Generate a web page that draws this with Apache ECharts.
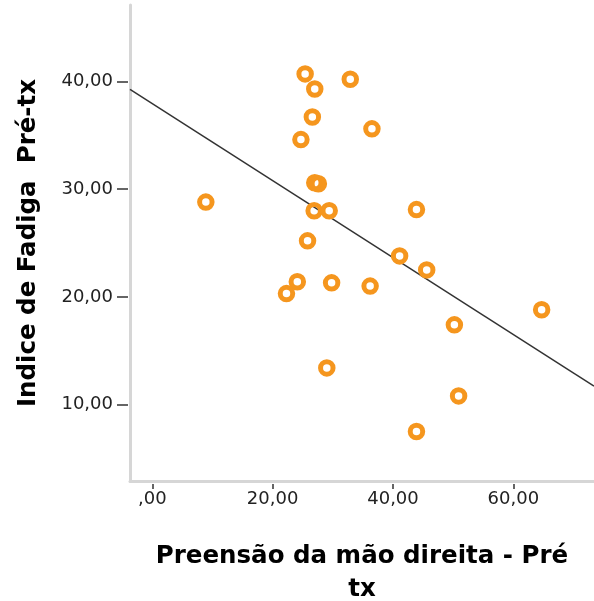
<!DOCTYPE html>
<html>
<head>
<meta charset="utf-8">
<script src="https://cdn.jsdelivr.net/npm/echarts@6/dist/echarts.min.js"></script>
<style>
html,body{margin:0;padding:0;background:#fff;}
#chart{width:594px;height:601px;}
</style>
</head>
<body>
<div id="chart"></div>
<script>
// Data
const preensaoX = [25.4, 27.0, 32.9, 26.6, 36.5, 24.7, 27.0, 27.6, 8.9, 26.9, 29.4, 43.9, 25.8, 41.1, 45.6, 24.1, 22.3, 29.8, 36.2, 29.0, 64.7, 50.2, 50.9, 43.9];
const fadigaY   = [40.7, 39.3, 40.2, 36.7, 35.6, 34.6, 30.6, 30.5, 28.8, 28.0, 28.0, 28.1, 25.2, 23.8, 22.5, 21.4, 20.3, 21.3, 21.0, 13.4, 18.8, 17.4, 10.8, 7.5];
const xTicks = [0, 20, 40, 60];
const yTicks = [10, 20, 30, 40];
const xRange = [-3.7, 73.4];
const yRange = [2.9, 47.1];
const xTitle = 'Preensão da mão direita - Pré\ntx';
const yTitle = 'Indice de Fadiga  Pré-tx';

// least squares fit line
const n = preensaoX.length;
const mx = preensaoX.reduce((a, b) => a + b, 0) / n;
const my = fadigaY.reduce((a, b) => a + b, 0) / n;
let sxy = 0, sxx = 0;
for (let i = 0; i < n; i++) { sxy += (preensaoX[i] - mx) * (fadigaY[i] - my); sxx += (preensaoX[i] - mx) ** 2; }
const slope = sxy / sxx;
const intercept = my - slope * mx;
const fitLine = xRange.map(x => [x, intercept + slope * x]);

const fmt = v => {
  const s = v.toFixed(2).replace('.', ',');
  return s.startsWith('0,') ? s.slice(1) : s;
};

const labelFont = { fontFamily: 'DejaVu Sans', fontSize: 18, color: '#222' };
const titleFont = { fontFamily: 'DejaVu Sans', fontSize: 24.5, fontWeight: 'bold', color: '#000' };

const chart = echarts.init(document.getElementById('chart'), null, { renderer: 'canvas' });
chart.setOption({
  animation: false,
  backgroundColor: '#fff',
  grid: { left: 130, right: 0, top: 5, bottom: 120, containLabel: false, outerBoundsMode: 'none' },
  xAxis: [
    {
      type: 'value', min: xRange[0], max: xRange[1], position: 'bottom',
      axisLine: { show: true, onZero: false, lineStyle: { color: '#d6d6d6', width: 3 } },
      axisTick: { show: false }, axisLabel: { show: false }, splitLine: { show: false },
      name: xTitle, nameLocation: 'middle', nameGap: 59,
      nameTextStyle: Object.assign({ lineHeight: 33 }, titleFont)
    },
    {
      type: 'value', min: xRange[0], max: xRange[1], position: 'bottom', offset: 3,
      axisLine: { show: false, onZero: false },
      axisTick: { show: true, customValues: xTicks, length: 5, lineStyle: { color: '#333', width: 1.5 } },
      axisLabel: Object.assign({ show: true, customValues: xTicks, formatter: fmt, margin: 6 }, labelFont),
      splitLine: { show: false }
    }
  ],
  yAxis: [
    {
      type: 'value', min: yRange[0], max: yRange[1], position: 'left',
      axisLine: { show: true, onZero: false, lineStyle: { color: '#d6d6d6', width: 3 } },
      axisTick: { show: false }, axisLabel: { show: false }, splitLine: { show: false },
      name: yTitle, nameLocation: 'middle', nameGap: 89, nameRotate: 90,
      nameTextStyle: titleFont
    },
    {
      type: 'value', min: yRange[0], max: yRange[1], position: 'left', offset: 2,
      axisLine: { show: false, onZero: false },
      axisTick: { show: true, customValues: yTicks, length: 11, lineStyle: { color: '#333', width: 1.5 } },
      axisLabel: Object.assign({ show: true, customValues: yTicks, formatter: fmt, margin: 15 }, labelFont),
      splitLine: { show: false }
    }
  ],
  series: [
    {
      type: 'line', data: fitLine, xAxisIndex: 0, yAxisIndex: 0,
      showSymbol: false, symbol: 'none', silent: true,
      lineStyle: { color: '#333', width: 1.5 }, z: 2
    },
    {
      type: 'scatter', data: preensaoX.map((x, i) => [x, fadigaY[i]]), xAxisIndex: 0, yAxisIndex: 0,
      symbol: 'circle', symbolSize: 12.5,
      itemStyle: { color: 'rgba(255,255,255,0)', borderColor: '#F5961E', borderWidth: 5, opacity: 1 },
      z: 3
    }
  ]
});
</script>
</body>
</html>
